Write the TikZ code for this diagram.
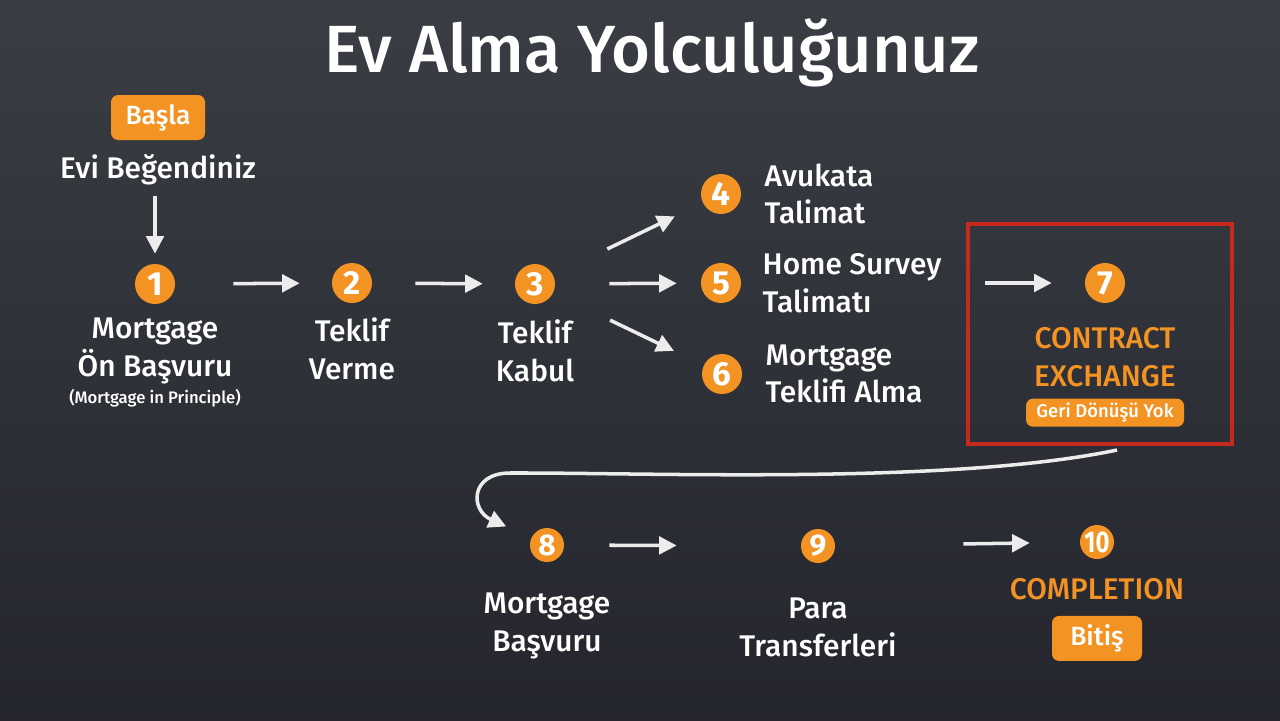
\documentclass[tikz,border=0pt]{standalone}
\usepackage{fontspec}
\IfFontExistsTF{Fira Sans Medium}
    {\setmainfont{Fira Sans Medium}[BoldFont={Fira Sans Bold}]}
    {\setmainfont{Fira Sans}}
\usetikzlibrary{shapes, arrows.meta, positioning}
\usepackage{xcolor}
\definecolor{boardtop}{HTML}{3A3D44}
\definecolor{boardbot}{HTML}{25262D}
\definecolor{stepor}{HTML}{F39323}
\definecolor{chalkwhite}{HTML}{ECECEC}
\definecolor{boxred}{HTML}{C62A1F}

\begin{document}
\begin{tikzpicture}[
        chalk/.style={draw=chalkwhite, line width=2pt, -{Triangle[length=10pt, width=10pt]}},
        stepnum/.style={circle, fill=stepor, text=white, minimum size=0.8cm, inner sep=0pt, font=\fontsize{19}{19}\selectfont\bfseries},
        smallnum/.style={stepnum, minimum size=0.68cm, font=\fontsize{17}{17}\selectfont\bfseries},
        steptext/.style={text=white, align=center, inner sep=0pt, font=\fontsize{17}{21.5}\selectfont},
        sidetext/.style={steptext, align=left},
        keytext/.style={steptext, text=stepor},
        tagbox/.style={rectangle, rounded corners=4pt, fill=stepor, text=white, minimum height=0.9cm, inner sep=2pt, font=\fontsize{15}{15}\selectfont}
    ]
        % Background
        \shade[top color=boardtop, bottom color=boardbot] (0,0) rectangle (25.6,-14.4);

        % Title
        \node[text=white, font=\fontsize{38}{38}\selectfont] (title) at (13.04,-1.06) {Ev Alma Yolculuğunuz};

        % Nodes
        \node[tagbox, minimum width=1.88cm] (start) at (3.16,-2.35) {Başla};
        \node[steptext, below=0.28cm of start] (liked) {Evi Beğendiniz};

        \node[stepnum] (c1) at (3.1,-5.68) {1};
        \node[steptext, below=0.26cm of c1] (l1) {Mortgage\\Ön Başvuru};
        \node[steptext, below=0.1cm of l1, font=\fontsize{9.5}{11}\selectfont] (n1) {(Mortgage in Principle)};

        \node[stepnum] (c2) at (7.04,-5.66) {2};
        \node[steptext, below=0.28cm of c2] (l2) {Teklif\\Verme};

        \node[stepnum] (c3) at (10.7,-5.68) {3};
        \node[steptext, below=0.3cm of c3] (l3) {Teklif\\Kabul};

        \node[stepnum] (c4) at (14.42,-3.88) {4};
        \node[sidetext, right=0.46cm of c4] (l4) {Avukata\\Talimat};
        \node[stepnum] (c5) at (14.42,-5.66) {5};
        \node[sidetext, right=0.42cm of c5] (l5) {Home Survey\\Talimatı};
        \node[stepnum] (c6) at (14.44,-7.48) {6};
        \node[sidetext, right=0.46cm of c6] (l6) {Mortgage\\Teklifi Alma};

        \node[rectangle, draw=boxred, line width=2.3pt, minimum width=5.28cm, minimum height=4.4cm] (exbox) at (22.0,-6.68) {};
        \node[stepnum] (c7) at (22.1,-5.66) {7};
        \node[keytext, below=0.48cm of c7] (l7) {CONTRACT\\EXCHANGE};
        \node[tagbox, below=0.22cm of l7, minimum width=3.16cm, minimum height=0.56cm, font=\fontsize{10.5}{10.5}\selectfont] (noway) {Geri Dönüşü Yok};

        \node[smallnum] (c8) at (10.94,-10.9) {8};
        \node[steptext, below=0.6cm of c8] (l8) {Mortgage\\Başvuru};

        \node[smallnum] (c9) at (16.36,-10.92) {9};
        \node[steptext, below=0.68cm of c9] (l9) {Para\\Transferleri};

        \node[smallnum] (c10) at (21.94,-10.84) {\scalebox{0.8}[1]{10}};
        \node[keytext, below=0.38cm of c10] (l10) {COMPLETION};
        \node[tagbox, below=0.3cm of l10, minimum width=1.8cm] (finish) {Bitiş};

        % Arrows
        \draw[chalk, shorten <=0.2cm, shorten >=0.2cm] (liked.south -| c1) -- (c1);
        \draw[chalk, shorten <=1.16cm, shorten >=0.64cm] (c1) -- (c2);
        \draw[chalk, shorten <=0.86cm, shorten >=0.64cm] (c2) -- (c3);
        \draw[chalk, shorten <=1.2cm, shorten >=0.62cm] (c3) -- (c4);
        \draw[chalk, shorten <=1.08cm, shorten >=0.48cm] (c3) -- (c5);
        \draw[chalk, shorten <=1.26cm, shorten >=0.66cm] (c3) -- (c6);
        \draw[chalk, shorten <=4.88cm, shorten >=0.66cm] (c5) -- (c7);
        \draw[chalk, shorten >=0.55cm] ([xshift=0.34cm, yshift=-0.08cm]exbox.south)
            .. controls (19,-9.7) and (13,-9.45) .. (10.2,-9.46)
            .. controls (9.4,-9.46) and (9.4,-10.2) .. (c8);
        \draw[chalk, shorten <=0.9cm, shorten >=2.48cm] (c8) -- (c9);
        \draw[chalk, shorten <=2.56cm, shorten >=1.0cm] (c9) -- (c10);
    \end{tikzpicture}
\end{document}
